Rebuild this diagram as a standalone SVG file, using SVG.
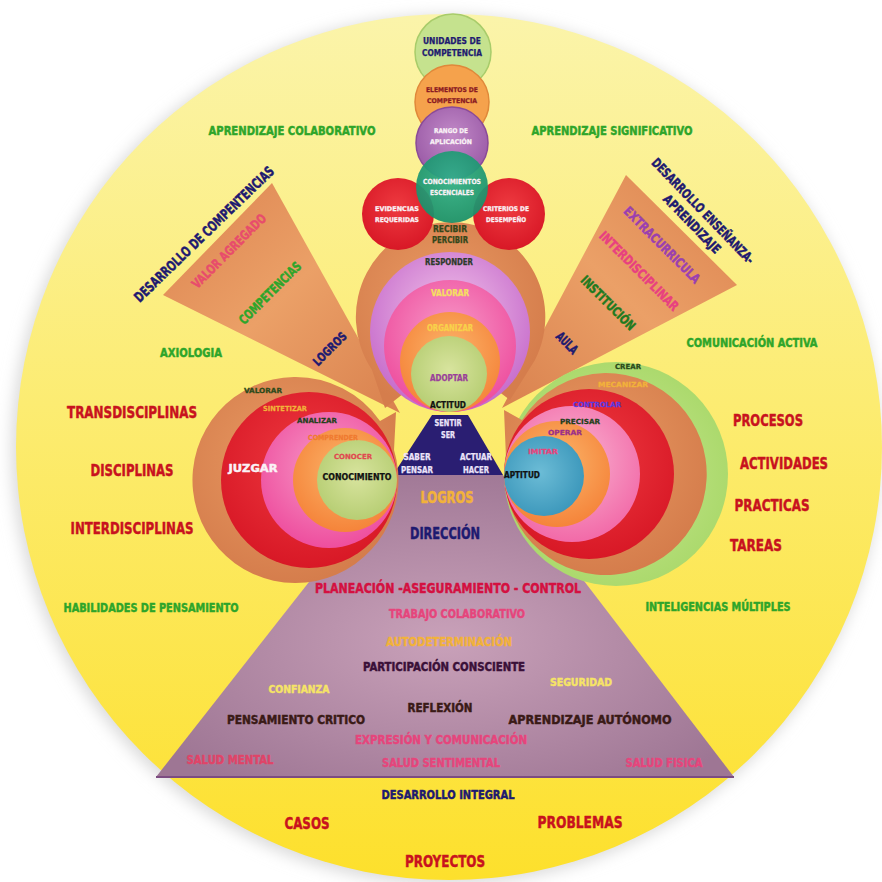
<svg xmlns="http://www.w3.org/2000/svg" width="882" height="882" viewBox="0 0 882 882">
  <defs>
    <linearGradient id="gYellow" x1="0" y1="0" x2="0" y2="1">
      <stop offset="0" stop-color="#FBF4AA"/>
      <stop offset="0.45" stop-color="#FCEC72"/>
      <stop offset="1" stop-color="#FDE02C"/>
    </linearGradient>
    <radialGradient id="gMauve" cx="0.5" cy="0.55" r="0.6">
      <stop offset="0" stop-color="#C9A1B9"/>
      <stop offset="1" stop-color="#9E7694"/>
    </radialGradient>
    <linearGradient id="gWedgeL" x1="0" y1="0" x2="1" y2="1">
      <stop offset="0" stop-color="#DC8350"/>
      <stop offset="0.5" stop-color="#EBA067"/>
      <stop offset="1" stop-color="#D9814E"/>
    </linearGradient>
    <linearGradient id="gWedgeR" x1="1" y1="0" x2="0" y2="1">
      <stop offset="0" stop-color="#DC8350"/>
      <stop offset="0.5" stop-color="#EBA067"/>
      <stop offset="1" stop-color="#D9814E"/>
    </linearGradient>
    <radialGradient id="gBrown" cx="0.45" cy="0.4" r="0.6">
      <stop offset="0" stop-color="#E99A62"/>
      <stop offset="1" stop-color="#D57D4C"/>
    </radialGradient>
    <radialGradient id="gLav" cx="0.5" cy="0.4" r="0.6">
      <stop offset="0" stop-color="#F2C4EA"/>
      <stop offset="1" stop-color="#C66BCB"/>
    </radialGradient>
    <radialGradient id="gPink" cx="0.5" cy="0.4" r="0.6">
      <stop offset="0" stop-color="#F79AC8"/>
      <stop offset="1" stop-color="#EE4E9E"/>
    </radialGradient>
    <radialGradient id="gPinkLight" cx="0.5" cy="0.4" r="0.6">
      <stop offset="0" stop-color="#F9B4D2"/>
      <stop offset="1" stop-color="#F26AA8"/>
    </radialGradient>
    <radialGradient id="gOrange" cx="0.5" cy="0.4" r="0.6">
      <stop offset="0" stop-color="#FBB56A"/>
      <stop offset="1" stop-color="#F5843A"/>
    </radialGradient>
    <radialGradient id="gLime" cx="0.5" cy="0.45" r="0.6">
      <stop offset="0" stop-color="#D8E49E"/>
      <stop offset="1" stop-color="#B4CC70"/>
    </radialGradient>
    <radialGradient id="gRed" cx="0.5" cy="0.4" r="0.6">
      <stop offset="0" stop-color="#EE3A40"/>
      <stop offset="1" stop-color="#D81826"/>
    </radialGradient>
    <radialGradient id="gBlue" cx="0.45" cy="0.45" r="0.6">
      <stop offset="0" stop-color="#6CBCD6"/>
      <stop offset="1" stop-color="#3A96BA"/>
    </radialGradient>
    <radialGradient id="gGreenRing" cx="0.5" cy="0.5" r="0.55">
      <stop offset="0" stop-color="#C8E890"/>
      <stop offset="1" stop-color="#A9D86A"/>
    </radialGradient>
    <radialGradient id="gTeal" cx="0.5" cy="0.4" r="0.6">
      <stop offset="0" stop-color="#2FB08A"/>
      <stop offset="1" stop-color="#18906A"/>
    </radialGradient>
    <radialGradient id="gPurple" cx="0.5" cy="0.4" r="0.6">
      <stop offset="0" stop-color="#C28AC8"/>
      <stop offset="1" stop-color="#9A5AA6"/>
    </radialGradient>
    <filter id="soft" x="-10%" y="-10%" width="120%" height="120%">
      <feGaussianBlur stdDeviation="8"/>
    </filter>
    <style>
      .t { font-family: "DejaVu Sans Condensed", "Liberation Sans Narrow", "DejaVu Sans", sans-serif; font-weight: bold; text-anchor: middle; dominant-baseline: central; stroke-width: 0.45; stroke-linejoin: round; }
      .s { stroke-width: 0.25; }
      .green { fill: #2EA52A; stroke: #2EA52A; }
      .red { fill: #C8121E; stroke: #C8121E; }
      .navy { fill: #1E1A70; stroke: #1E1A70; }
      .pink { fill: #E6457C; stroke: #E6457C; }
      .gold { fill: #F2B23A; stroke: #F2B23A; }
      .yel { fill: #F6E466; stroke: #F6E466; }
      .dark { fill: #3A1A16; stroke: #3A1A16; }
      .white { fill: #FAF2F6; stroke: #FAF2F6; }
      .lav { fill: #ECE4FA; stroke: #ECE4FA; }
      .olive { fill: #34461A; stroke: #34461A; }
      .maroon { fill: #8B1A22; stroke: #8B1A22; }
      .resp { fill: #2C3A2A; stroke: #2C3A2A; }
      .val { fill: #F5E060; stroke: #F5E060; }
      .org { fill: #F8D24A; stroke: #F8D24A; }
      .adop { fill: #9A3F9A; stroke: #9A3F9A; }
      .blk { fill: #111111; stroke: #111111; }
      .dg1 { fill: #2C4A1A; stroke: #2C4A1A; }
      .dg2 { fill: #23401A; stroke: #23401A; }
      .compr { fill: #F07A30; stroke: #F07A30; }
      .conoc { fill: #E04A50; stroke: #E04A50; }
      .ctrl { fill: #5A3AE0; stroke: #5A3AE0; }
      .oper { fill: #9A2F8A; stroke: #9A2F8A; }
      .valag { fill: #E84C6C; stroke: #E84C6C; }
      .extra { fill: #9A3FB0; stroke: #9A3FB0; }
      .inter { fill: #E84080; stroke: #E84080; }
      .inst { fill: #1E7A1E; stroke: #1E7A1E; }
      .plan { fill: #D41040; stroke: #D41040; }
      .part { fill: #3A1038; stroke: #3A1038; }
      .salud { fill: #E04468; stroke: #E04468; }
    </style>
  </defs>

  <!-- background disc -->
  <g id="background">
    <rect width="882" height="882" fill="#FFFFFF"/>
    <circle cx="446" cy="450" r="434" fill="#D8D8D8" filter="url(#soft)"/>
    <circle cx="449" cy="447" r="433" fill="url(#gYellow)"/>
  </g>

  <!-- side wedges -->
  <g id="wedge-left">
    <polygon points="163,295 272,183 400,413" fill="url(#gWedgeL)"/>
  </g>
  <g id="wedge-right">
    <polygon points="626,175 737,285 502,408" fill="url(#gWedgeR)"/>
  </g>

  <!-- pyramid -->
  <g id="pyramid">
    <polygon points="393,475 503,475 734,777 156,777" fill="url(#gMauve)"/>
    <line x1="156" y1="777" x2="734" y2="777" stroke="#7C4C82" stroke-width="2"/>
    <polygon points="432,415 468,415 503,475 393,475" fill="#2A1E72"/>
  </g>

  <!-- central attitude circles -->
  <g id="attitude">
    <path d="M450,222 A95,95 0 0 1 535,360 L510,400 L494,388 A95,95 0 0 1 408,390 L385,408 L372,370 A95,95 0 0 1 450,222 Z" fill="url(#gBrown)"/>
    <circle cx="450" cy="332" r="80" fill="url(#gLav)"/>
    <circle cx="450" cy="346" r="66" fill="url(#gPink)"/>
    <circle cx="450" cy="362" r="50" fill="url(#gOrange)"/>
    <circle cx="449" cy="374" r="38" fill="url(#gLime)"/>
  </g>

  <!-- competence circles -->
  <g id="competence">
    <circle cx="453" cy="52" r="38" fill="#C5E28E" stroke="#A8CC6A" stroke-width="1.5"/>
    <circle cx="452" cy="102" r="37" fill="#F5A24C" stroke="#E0883A" stroke-width="1.5"/>
    <circle cx="452" cy="143" r="36" fill="url(#gPurple)" stroke="#8A4A98" stroke-width="1.5"/>
    <circle cx="398" cy="214" r="36" fill="url(#gRed)"/>
    <circle cx="509" cy="214" r="36" fill="url(#gRed)"/>
    <circle cx="452" cy="187" r="36" fill="url(#gTeal)" opacity="0.93"/>
  </g>

  <!-- left thinking circles -->
  <g id="thinking">
    <path d="M294,377 A103,103 0 0 1 380,421 L396,412 L394,450 A103,103 0 1 1 294,377 Z" fill="url(#gBrown)"/>
    <circle cx="309" cy="480" r="88" fill="url(#gRed)"/>
    <circle cx="329" cy="480" r="68" fill="url(#gPink)"/>
    <circle cx="345" cy="480" r="52" fill="url(#gOrange)"/>
    <circle cx="357" cy="480" r="40" fill="url(#gLime)"/>
  </g>

  <!-- right aptitude circles -->
  <g id="aptitude">
    <circle cx="616" cy="474" r="112" fill="url(#gGreenRing)"/>
    <path d="M605,373 A101,101 0 1 1 506,458 L504,410 L522,420 A101,101 0 0 1 605,373 Z" fill="url(#gBrown)"/>
    <circle cx="589" cy="474" r="85" fill="url(#gRed)"/>
    <circle cx="572" cy="474" r="68" fill="url(#gPinkLight)"/>
    <circle cx="557" cy="474" r="53" fill="url(#gOrange)"/>
    <circle cx="544" cy="476" r="40" fill="url(#gBlue)"/>
  </g>

  <!-- labels inside circles -->
  <g id="competence-labels">
    <text class="t s navy" x="452" y="41" font-size="8.5" textLength="58" lengthAdjust="spacingAndGlyphs">UNIDADES DE</text>
    <text class="t s navy" x="452" y="53" font-size="8.5" textLength="60" lengthAdjust="spacingAndGlyphs">COMPETENCIA</text>
    <text class="t s maroon" x="452" y="90" font-size="6.5" textLength="52" lengthAdjust="spacingAndGlyphs">ELEMENTOS DE</text>
    <text class="t s maroon" x="452" y="101" font-size="6.5" textLength="50" lengthAdjust="spacingAndGlyphs">COMPETENCIA</text>
    <text class="t s white" x="451" y="131" font-size="6.5" textLength="34" lengthAdjust="spacingAndGlyphs">RANGO DE</text>
    <text class="t s white" x="451" y="142" font-size="6.5" textLength="42" lengthAdjust="spacingAndGlyphs">APLICACIÓN</text>
    <text class="t s white" x="452" y="182" font-size="7" textLength="58" lengthAdjust="spacingAndGlyphs">CONOCIMIENTOS</text>
    <text class="t s white" x="452" y="193" font-size="7" textLength="44" lengthAdjust="spacingAndGlyphs">ESCENCIALES</text>
    <text class="t s white" x="397" y="209" font-size="6.5" textLength="44" lengthAdjust="spacingAndGlyphs">EVIDENCIAS</text>
    <text class="t s white" x="397" y="220" font-size="6.5" textLength="44" lengthAdjust="spacingAndGlyphs">REQUERIDAS</text>
    <text class="t s white" x="506" y="209" font-size="6.5" textLength="46" lengthAdjust="spacingAndGlyphs">CRITERIOS DE</text>
    <text class="t s white" x="506" y="220" font-size="6.5" textLength="40" lengthAdjust="spacingAndGlyphs">DESEMPEÑO</text>
  </g>
  <g id="attitude-labels">
    <text class="t s olive" x="450" y="229" font-size="8" textLength="34" lengthAdjust="spacingAndGlyphs">RECIBIR</text>
    <text class="t s olive" x="450" y="240" font-size="8" textLength="36" lengthAdjust="spacingAndGlyphs">PERCIBIR</text>
    <text class="t s resp" x="449" y="262" font-size="8" textLength="48" lengthAdjust="spacingAndGlyphs">RESPONDER</text>
    <text class="t s val" x="450" y="293" font-size="8" textLength="38" lengthAdjust="spacingAndGlyphs">VALORAR</text>
    <text class="t s org" x="450" y="328" font-size="8" textLength="46" lengthAdjust="spacingAndGlyphs">ORGANIZAR</text>
    <text class="t s adop" x="449" y="378" font-size="8" textLength="38" lengthAdjust="spacingAndGlyphs">ADOPTAR</text>
    <text class="t s blk" x="448" y="405" font-size="8.5" textLength="36" lengthAdjust="spacingAndGlyphs">ACTITUD</text>
  </g>
  <g id="being-labels">
    <text class="t s lav" x="448" y="423" font-size="8" textLength="27" lengthAdjust="spacingAndGlyphs">SENTIR</text>
    <text class="t s lav" x="448" y="435" font-size="8" textLength="14" lengthAdjust="spacingAndGlyphs">SER</text>
    <text class="t s lav" x="417" y="457" font-size="8" textLength="27" lengthAdjust="spacingAndGlyphs">SABER</text>
    <text class="t s lav" x="417" y="470" font-size="8" textLength="32" lengthAdjust="spacingAndGlyphs">PENSAR</text>
    <text class="t s lav" x="476" y="457" font-size="8" textLength="32" lengthAdjust="spacingAndGlyphs">ACTUAR</text>
    <text class="t s lav" x="476" y="470" font-size="8" textLength="26" lengthAdjust="spacingAndGlyphs">HACER</text>
  </g>
  <g id="thinking-labels">
    <text class="t s dg1" x="263" y="391" font-size="7" textLength="38" lengthAdjust="spacingAndGlyphs">VALORAR</text>
    <text class="t s gold" x="285" y="409" font-size="7" textLength="44" lengthAdjust="spacingAndGlyphs">SINTETIZAR</text>
    <text class="t s dg2" x="317" y="421" font-size="7" textLength="40" lengthAdjust="spacingAndGlyphs">ANALIZAR</text>
    <text class="t s compr" x="333" y="438" font-size="7" textLength="50" lengthAdjust="spacingAndGlyphs">COMPRENDER</text>
    <text class="t s conoc" x="353" y="457" font-size="7" textLength="38" lengthAdjust="spacingAndGlyphs">CONOCER</text>
    <text class="t s blk" x="357" y="477" font-size="8" textLength="69" lengthAdjust="spacingAndGlyphs">CONOCIMIENTO</text>
    <text class="t white" x="253" y="468" font-size="11" textLength="49" lengthAdjust="spacingAndGlyphs">JUZGAR</text>
  </g>
  <g id="aptitude-labels">
    <text class="t s dg1" x="628" y="367" font-size="7" textLength="26" lengthAdjust="spacingAndGlyphs">CREAR</text>
    <text class="t s gold" x="623" y="385" font-size="7" textLength="50" lengthAdjust="spacingAndGlyphs">MECANIZAR</text>
    <text class="t s ctrl" x="597" y="405" font-size="7" textLength="48" lengthAdjust="spacingAndGlyphs">CONTROLAR</text>
    <text class="t s dg2" x="580" y="422" font-size="7" textLength="40" lengthAdjust="spacingAndGlyphs">PRECISAR</text>
    <text class="t s oper" x="565" y="433" font-size="7" textLength="34" lengthAdjust="spacingAndGlyphs">OPERAR</text>
    <text class="t s pink" x="543" y="452" font-size="7" textLength="30" lengthAdjust="spacingAndGlyphs">IMITAR</text>
    <text class="t s blk" x="522" y="475" font-size="8" textLength="36" lengthAdjust="spacingAndGlyphs">APTITUD</text>
  </g>

  <!-- wedge labels -->
  <g id="wedge-left-labels">
    <text class="t navy" transform="translate(204,234) rotate(-44)" font-size="14" textLength="188" lengthAdjust="spacingAndGlyphs">DESARROLLO DE COMPENTENCIAS</text>
    <text class="t valag" transform="translate(229,251) rotate(-45)" font-size="13" textLength="99" lengthAdjust="spacingAndGlyphs">VALOR AGREGADO</text>
    <text class="t green" transform="translate(270,293) rotate(-45)" font-size="13" textLength="82" lengthAdjust="spacingAndGlyphs">COMPETENCIAS</text>
    <text class="t navy" transform="translate(330,349) rotate(-45)" font-size="12" textLength="42" lengthAdjust="spacingAndGlyphs">LOGROS</text>
  </g>
  <g id="wedge-right-labels">
    <text class="t navy" transform="translate(703,211) rotate(46)" font-size="13" textLength="141" lengthAdjust="spacingAndGlyphs">DESARROLLO ENSEÑANZA-</text>
    <text class="t navy" transform="translate(692,224) rotate(46)" font-size="13" textLength="76" lengthAdjust="spacingAndGlyphs">APRENDIZAJE</text>
    <text class="t extra" transform="translate(662,245) rotate(45)" font-size="13" textLength="102" lengthAdjust="spacingAndGlyphs">EXTRACURRICULA</text>
    <text class="t inter" transform="translate(639,271) rotate(45)" font-size="13" textLength="106" lengthAdjust="spacingAndGlyphs">INTERDISCIPLINAR</text>
    <text class="t inst" transform="translate(608,303) rotate(45)" font-size="13" textLength="71" lengthAdjust="spacingAndGlyphs">INSTITUCIÓN</text>
    <text class="t navy" transform="translate(567,343) rotate(45)" font-size="13" textLength="25" lengthAdjust="spacingAndGlyphs">AULA</text>
  </g>

  <!-- pyramid labels -->
  <g id="pyramid-labels">
    <text class="t gold" x="447" y="498" font-size="15" textLength="53" lengthAdjust="spacingAndGlyphs">LOGROS</text>
    <text class="t navy" x="445" y="533" font-size="16" textLength="70" lengthAdjust="spacingAndGlyphs">DIRECCIÓN</text>
    <text class="t plan" x="448" y="588" font-size="14" textLength="266" lengthAdjust="spacingAndGlyphs">PLANEACIÓN -ASEGURAMIENTO - CONTROL</text>
    <text class="t pink" x="457" y="614" font-size="12" textLength="136" lengthAdjust="spacingAndGlyphs">TRABAJO COLABORATIVO</text>
    <text class="t gold" x="449" y="642" font-size="12" textLength="126" lengthAdjust="spacingAndGlyphs">AUTODETERMINACIÓN</text>
    <text class="t part" x="444" y="667" font-size="12" textLength="162" lengthAdjust="spacingAndGlyphs">PARTICIPACIÓN CONSCIENTE</text>
    <text class="t yel" x="299" y="689" font-size="11" textLength="61" lengthAdjust="spacingAndGlyphs">CONFIANZA</text>
    <text class="t yel" x="581" y="682" font-size="11" textLength="62" lengthAdjust="spacingAndGlyphs">SEGURIDAD</text>
    <text class="t dark" x="440" y="708" font-size="12" textLength="65" lengthAdjust="spacingAndGlyphs">REFLEXIÓN</text>
    <text class="t dark" x="296" y="720" font-size="12" textLength="138" lengthAdjust="spacingAndGlyphs">PENSAMIENTO CRITICO</text>
    <text class="t dark" x="590" y="720" font-size="12" textLength="163" lengthAdjust="spacingAndGlyphs">APRENDIZAJE AUTÓNOMO</text>
    <text class="t pink" x="441" y="740" font-size="12" textLength="172" lengthAdjust="spacingAndGlyphs">EXPRESIÓN Y COMUNICACIÓN</text>
    <text class="t salud" x="230" y="760" font-size="12" textLength="87" lengthAdjust="spacingAndGlyphs">SALUD MENTAL</text>
    <text class="t pink" x="441" y="763" font-size="12" textLength="118" lengthAdjust="spacingAndGlyphs">SALUD SENTIMENTAL</text>
    <text class="t pink" x="664" y="763" font-size="12" textLength="77" lengthAdjust="spacingAndGlyphs">SALUD FISICA</text>
  </g>

  <!-- outer ring labels -->
  <g id="outer-labels">
    <text class="t green" x="292" y="131" font-size="12" textLength="167" lengthAdjust="spacingAndGlyphs">APRENDIZAJE COLABORATIVO</text>
    <text class="t green" x="612" y="131" font-size="12" textLength="161" lengthAdjust="spacingAndGlyphs">APRENDIZAJE SIGNIFICATIVO</text>
    <text class="t green" x="191" y="353" font-size="12" textLength="62" lengthAdjust="spacingAndGlyphs">AXIOLOGIA</text>
    <text class="t green" x="752" y="343" font-size="12" textLength="131" lengthAdjust="spacingAndGlyphs">COMUNICACIÓN ACTIVA</text>
    <text class="t green" x="151" y="608" font-size="12" textLength="175" lengthAdjust="spacingAndGlyphs">HABILIDADES DE PENSAMIENTO</text>
    <text class="t green" x="718" y="607" font-size="12" textLength="145" lengthAdjust="spacingAndGlyphs">INTELIGENCIAS MÚLTIPLES</text>
    <text class="t red" x="132" y="412" font-size="16" textLength="130" lengthAdjust="spacingAndGlyphs">TRANSDISCIPLINAS</text>
    <text class="t red" x="132" y="470" font-size="16" textLength="83" lengthAdjust="spacingAndGlyphs">DISCIPLINAS</text>
    <text class="t red" x="132" y="528" font-size="16" textLength="123" lengthAdjust="spacingAndGlyphs">INTERDISCIPLINAS</text>
    <text class="t red" x="768" y="420" font-size="16" textLength="70" lengthAdjust="spacingAndGlyphs">PROCESOS</text>
    <text class="t red" x="784" y="463" font-size="16" textLength="88" lengthAdjust="spacingAndGlyphs">ACTIVIDADES</text>
    <text class="t red" x="772" y="505" font-size="16" textLength="75" lengthAdjust="spacingAndGlyphs">PRACTICAS</text>
    <text class="t red" x="756" y="545" font-size="16" textLength="52" lengthAdjust="spacingAndGlyphs">TAREAS</text>
    <text class="t navy" x="448" y="795" font-size="12" textLength="133" lengthAdjust="spacingAndGlyphs">DESARROLLO INTEGRAL</text>
    <text class="t red" x="307" y="823" font-size="16" textLength="45" lengthAdjust="spacingAndGlyphs">CASOS</text>
    <text class="t red" x="580" y="822" font-size="16" textLength="85" lengthAdjust="spacingAndGlyphs">PROBLEMAS</text>
    <text class="t red" x="445" y="861" font-size="16" textLength="80" lengthAdjust="spacingAndGlyphs">PROYECTOS</text>
  </g>
</svg>
